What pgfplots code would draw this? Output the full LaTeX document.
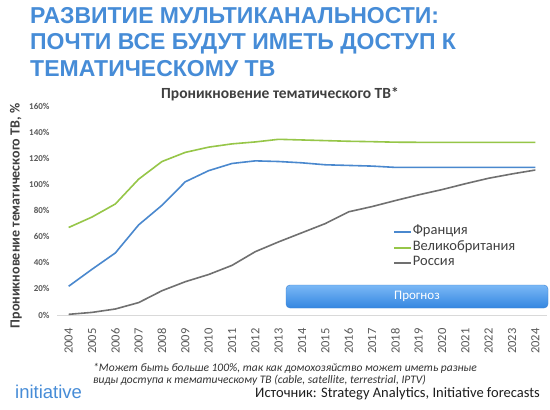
\documentclass[border=0pt]{standalone}
\usepackage{pgfplots}
\pgfplotsset{compat=1.18}
\usepackage{fontspec}
\setmainfont{Carlito}
\newfontfamily\arialfont{Liberation Sans}
\definecolor{titleblue}{RGB}{70,140,215}
\definecolor{frblue}{RGB}{74,136,206}
\definecolor{ukgreen}{RGB}{150,198,72}
\definecolor{rugray}{RGB}{112,112,112}
\definecolor{txtgray}{RGB}{89,89,89}
\definecolor{darktxt}{RGB}{64,64,64}
\begin{document}
\begin{tikzpicture}[x=1bp,y=1bp]
\useasboundingbox (0,0) rectangle (550,409);
\fill[white] (0,0) rectangle (550,409);
% main title
\begin{scope}[every node/.style={anchor=base west, inner sep=0, text=titleblue, font=\arialfont\bfseries\fontsize{23bp}{26bp}\selectfont}]
\node at (30,386) {РАЗВИТИЕ МУЛЬТИКАНАЛЬНОСТИ:};
\node at (30,359.5) {ПОЧТИ ВСЕ БУДУТ ИМЕТЬ ДОСТУП К};
\node at (30,333) {ТЕМАТИЧЕСКОМУ ТВ};
\end{scope}
% chart title
\node[anchor=base, inner sep=0, text=darktxt, font=\bfseries\fontsize{15.5bp}{17bp}\selectfont] at (280,311) {Проникновение тематического ТВ*};
% y label
\node[rotate=90, anchor=center, inner sep=0, text=darktxt, font=\bfseries\fontsize{14bp}{16bp}\selectfont] at (16,193) {Проникновение тематического ТВ, \%};
% forecast box
\shade[top color={rgb,255:red,122;green,184;blue,246}, bottom color={rgb,255:red,52;green,134;blue,224}, draw={rgb,255:red,60;green,130;blue,210}, rounded corners=4bp] (286,101) rectangle (548,124);
\node[text=white, font=\fontsize{13bp}{15bp}\selectfont, inner sep=0] at (417,112.5) {Прогноз};
\begin{axis}[
  at={(57bp,94bp)}, anchor=south west,
  scale only axis, width=490bp, height=209bp,
  xmin=2003.5, xmax=2024.5, ymin=0, ymax=160,
  axis x line*=bottom, axis y line*=left,
  y axis line style={draw=none},
  x axis line style={draw={rgb,255:red,217;green,217;blue,217}, line width=0.8bp},
  major tick length=0pt,
  xtick={2004,2005,...,2024},
  ytick={0,20,...,160},
  /pgf/number format/assume math mode=true,
  x tick label style={/pgf/number format/1000 sep={}, rotate=90, anchor=east, text=txtgray, font=\fontsize{12.5bp}{14bp}\selectfont},
  xticklabel shift={10bp},
  yticklabel={\pgfmathprintnumber{\tick}\%},
  y tick label style={text=txtgray, font=\bfseries\fontsize{9bp}{10bp}\selectfont},
  yticklabel shift={4bp},
  legend style={at={(0.686,0.435)}, anchor=north west, draw=none, fill=none, inner sep=0pt, row sep=0bp, text=darktxt, nodes={inner sep=0.5bp, text height=10bp, text depth=4.5bp}, font=\fontsize{14.5bp}{16bp}\selectfont},
  legend cell align=left,
  legend image code/.code={\draw[#1, line width=2bp] (0bp,0bp) -- (17bp,0bp);},
  every axis plot/.append style={line width=1.6bp, mark=none},
]
\addplot[color=frblue] coordinates {(2004,22) (2005,35) (2006,47.5) (2007,69) (2008,84) (2009,102) (2010,110.5) (2011,116) (2012,118) (2013,117.5) (2014,116.5) (2015,115) (2016,114.5) (2017,114) (2018,113) (2019,113) (2020,113) (2021,113) (2022,113) (2023,113) (2024,113)};
\addlegendentry{Франция}
\addplot[color=ukgreen] coordinates {(2004,67) (2005,75) (2006,85) (2007,104) (2008,117.5) (2009,124.5) (2010,128.5) (2011,131) (2012,132.5) (2013,134.5) (2014,134) (2015,133.5) (2016,133) (2017,132.7) (2018,132.3) (2019,132.2) (2020,132.2) (2021,132.2) (2022,132.2) (2023,132.2) (2024,132.2)};
\addlegendentry{Великобритания}
\addplot[color=rugray] coordinates {(2004,0.5) (2005,2) (2006,4.6) (2007,9.5) (2008,18.6) (2009,25.5) (2010,31) (2011,38) (2012,48.5) (2013,56) (2014,63) (2015,70) (2016,79) (2017,83) (2018,87.6) (2019,92) (2020,96) (2021,100.5) (2022,104.7) (2023,108) (2024,111)};
\addlegendentry{Россия}
\end{axis}
% footnote
\begin{scope}[every node/.style={anchor=base west, inner sep=0, text={rgb,255:red,50;green,50;blue,50}, font=\itshape\fontsize{11.5bp}{12bp}\selectfont}]
\node at (93,37.5) {*Может быть больше 100\%, так как домохозяйство может иметь разные};
\node at (93,25.5) {виды доступа к тематическому ТВ (cable, satellite, terrestrial, IPTV)};
\end{scope}
% logo
\node[anchor=base west, inner sep=0, text=titleblue, font=\arialfont\fontsize{18.5bp}{20bp}\selectfont] at (15,11) {initiative};
% source
\node[anchor=base east, inner sep=0, text={rgb,255:red,30;green,30;blue,30}, font=\fontsize{14.5bp}{16bp}\selectfont] at (540,12) {Источник: Strategy Analytics, Initiative forecasts};
\end{tikzpicture}
\end{document}
